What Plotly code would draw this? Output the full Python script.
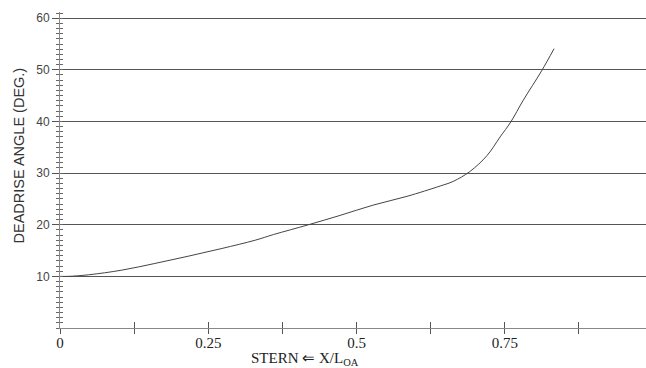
import plotly.graph_objects as go

# Data
x_ratio = [0, 0.014, 0.048, 0.104, 0.16, 0.216, 0.273, 0.329, 0.36, 0.419,
           0.472, 0.528, 0.585, 0.641, 0.663, 0.691, 0.72, 0.742, 0.76,
           0.781, 0.812, 0.833]
deadrise = [10, 10, 10.3, 11.2, 12.5, 13.9, 15.4, 17.0, 18.1, 20.0,
            21.8, 23.8, 25.5, 27.5, 28.4, 30.3, 33.4, 37.0, 39.9,
            44.1, 49.8, 54.1]

x_tickvals = [0, 0.25, 0.5, 0.75]
x_ticktext = ["0", "0.25", "0.5", "0.75"]
y_tickvals = [10, 20, 30, 40, 50, 60]

X_RANGE = [0, 0.988]
Y_RANGE = [0, 61.2]

fig = go.Figure()
fig.add_trace(go.Scatter(x=x_ratio, y=deadrise, mode="lines",
                         line=dict(color="#444444", width=1, shape="spline", smoothing=1.0),
                         hoverinfo="skip", showlegend=False))
# helper trace for overlay axes (inside tick marks)
fig.add_trace(go.Scatter(x=[None], y=[None], xaxis="x2", yaxis="y2",
                         mode="lines", showlegend=False, hoverinfo="skip"))

axis_col = "#888888"
serif = "Liberation Serif, Times New Roman, serif"
sans = "Liberation Sans, Arial, sans-serif"
fig.update_layout(
    width=646, height=368,
    margin=dict(l=60, r=0, t=12, b=40),
    plot_bgcolor="white", paper_bgcolor="white",
    showlegend=False,
    xaxis=dict(
        range=X_RANGE, tickvals=x_tickvals, ticktext=x_ticktext,
        ticks="outside", ticklen=5, tickwidth=1, tickcolor="#555555",
        minor=dict(dtick=0.125, tick0=0, ticks="outside", ticklen=5, tickwidth=1, tickcolor="#555555", showgrid=False),
        showgrid=False, zeroline=False,
        showline=True, linecolor=axis_col, linewidth=1,
        tickfont=dict(family=serif, size=15, color="#222222"),
        ticklabelstandoff=-4,
        fixedrange=True,
    ),
    xaxis2=dict(
        range=X_RANGE, overlaying="x", anchor="y2", dtick=0.125, tick0=0,
        ticks="inside", ticklen=6, tickwidth=1, tickcolor="#555555",
        showticklabels=False, showgrid=False, zeroline=False, showline=False,
    ),
    yaxis=dict(
        range=Y_RANGE, tickvals=y_tickvals,
        ticks="outside", ticklen=7, tickwidth=1, tickcolor="#555555",
        minor=dict(dtick=1, tick0=0, ticks="outside", ticklen=3, tickwidth=1, tickcolor="#666666", showgrid=False),
        showgrid=True, gridcolor="#555555", gridwidth=1,
        zeroline=False, showline=True, linecolor=axis_col, linewidth=1,
        tickfont=dict(family=sans, size=12, color="#444444"),
        fixedrange=True,
    ),
    yaxis2=dict(
        range=Y_RANGE, overlaying="y", anchor="x2", dtick=5, tick0=0,
        ticks="inside", ticklen=3, tickwidth=1, tickcolor="#666666",
        minor=dict(dtick=1, tick0=0, ticks="inside", ticklen=3, tickwidth=1, tickcolor="#666666", showgrid=False),
        showticklabels=False, showgrid=False, zeroline=False, showline=False,
    ),
    annotations=[
        dict(text="STERN \u21d0 X/L<sub>OA</sub>", x=0.413, xref="x", y=-0.097, yref="paper",
             showarrow=False, xanchor="center", yanchor="middle",
             font=dict(family=serif, size=15, color="#222222")),
        dict(text="DEADRISE ANGLE (DEG.)", textangle=-90, x=-0.0705, xref="paper",
             y=0.545, yref="paper", showarrow=False, xanchor="center", yanchor="middle",
             font=dict(family=sans, size=14.5, color="#333333")),
    ],
)

fig.write_html("out.html")
